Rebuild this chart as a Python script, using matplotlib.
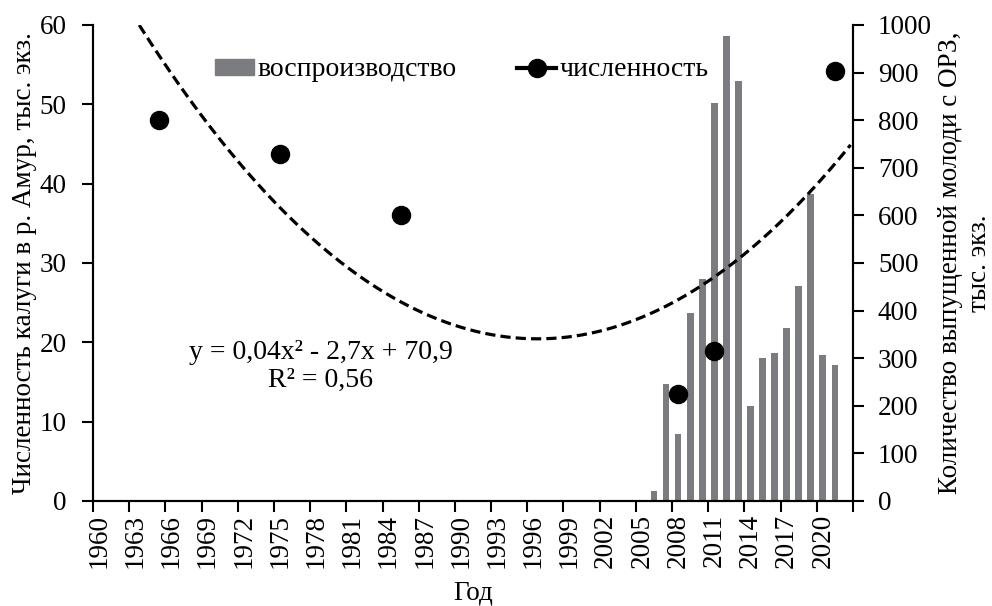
import numpy as np
import matplotlib
matplotlib.use("Agg")
import matplotlib.pyplot as plt
from matplotlib.lines import Line2D
from matplotlib.patches import Patch

plt.rcParams['font.family'] = ['Liberation Serif', 'DejaVu Serif']

# ---- data ----
bar_years = [2006, 2007, 2008, 2009, 2010, 2011, 2012, 2013, 2014, 2015,
             2016, 2017, 2018, 2019, 2020, 2021]
bar_values = [20, 245, 140, 394, 466, 837, 977, 882, 199, 300,
              311, 364, 451, 644, 306, 286]          # тыс. экз. (right axis)

point_years = [1965, 1975, 1985, 2008, 2011, 2021]
point_values = [48.0, 43.7, 36.0, 13.5, 18.9, 54.2]  # тыс. экз. (left axis)

first_year, last_year = 1960, 2022
label_years = list(range(1960, 2021, 3))

eq_text = "y = 0,04x² - 2,7x + 70,9\nR² = 0,56"

# ---- figure ----
W, H = 992, 606
fig = plt.figure(figsize=(W / 100, H / 100), dpi=100)
ax = fig.add_axes([93 / W, 1 - 501 / H, (853 - 93) / W, (501 - 25) / H])
ax2 = ax.twinx()
ax.set_zorder(ax2.get_zorder() + 1)
ax.patch.set_visible(False)

bar_color = '#7a7c7f'
ax2.bar(bar_years, bar_values, width=0.56, color=bar_color, zorder=2)

# polynomial trend (Excel-style, x = category index)
idx = np.array(point_years) - first_year + 1
coef = np.polyfit(idx, point_values, 2)
xs = np.linspace(0.8, last_year - first_year + 1.3, 400)
ax.plot(xs + first_year - 1, np.polyval(coef, xs), color='black', lw=2.3,
        dashes=(3.2, 1.6), zorder=3)
ax.plot(point_years, point_values, 'o', color='black', ms=13, zorder=4)

ax.set_xlim(first_year - 0.5, last_year + 0.5)
ax.set_ylim(0, 60)
ax2.set_ylim(0, 1000)
ax.set_yticks(range(0, 61, 10))
ax2.set_yticks(range(0, 1001, 100))

ts = 19.5
ax.set_xticks(label_years)
ax.set_xticklabels([str(y) for y in label_years], rotation=90)
ax.tick_params(axis='x', which='major', length=0, pad=9)
ax.set_xticks(np.arange(first_year - 0.5, last_year + 0.6, 3), minor=True)
ax.tick_params(axis='x', which='minor', length=8, width=1.5, direction='out')

ax.tick_params(axis='both', which='major', labelsize=ts)
ax.tick_params(axis='y', length=8, width=1.5, direction='out', pad=11)
ax2.tick_params(axis='y', length=8, width=1.5, direction='out', labelsize=ts, pad=10)

for a in (ax, ax2):
    a.spines['top'].set_visible(False)
    for s in ('left', 'right', 'bottom'):
        a.spines[s].set_linewidth(1.5)

ls = 19.5
ax.set_ylabel("Численность калуги в р. Амур, тыс. экз.", fontsize=ls, labelpad=2)
ax2.set_ylabel("Количество выпущенной молоди с ОРЗ,\nтыс. экз.", fontsize=ls,
               labelpad=4, rotation=90, multialignment='center',
               linespacing=1.22)
ax.set_xlabel("Год", fontsize=ls, labelpad=9)

ax.text(321 / W, 1 - 366 / H, eq_text, transform=fig.transFigure,
        ha='center', va='center', fontsize=20, linespacing=1.15)

handles = [Patch(color=bar_color),
           Line2D([], [], color='black', lw=3, marker='o', ms=13)]
fig.legend(handles, ["воспроизводство", "численность"], loc='center left',
           bbox_to_anchor=(215 / W, 1 - 70 / H), ncol=2, frameon=False,
           fontsize=20, handlelength=1.4, handleheight=0.5, handletextpad=0.12,
           columnspacing=2.2, borderaxespad=0, borderpad=0)

fig.savefig("out.png", dpi=100)
